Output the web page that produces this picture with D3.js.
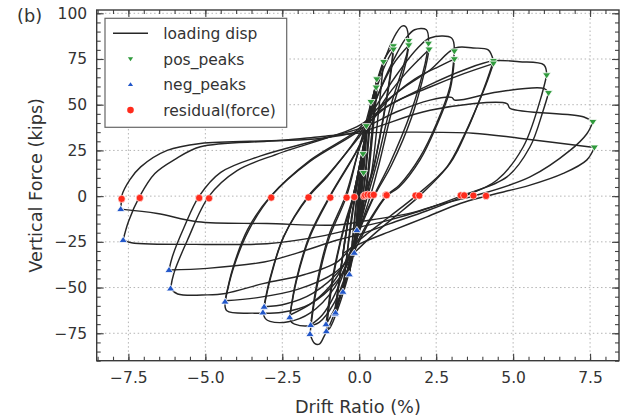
<!DOCTYPE html>
<html>
<head>
<meta charset="utf-8">
<script src="https://cdn.jsdelivr.net/npm/d3@7"></script>
<style>
  body { margin: 0; background: #fff; }
  svg { display: block; font-family: "DejaVu Sans", sans-serif; }
</style>
</head>
<body>
<div id="chart"></div>
<script>
// tick labels
const xTicks = [-7.5, -5, -2.5, 0, 2.5, 5, 7.5];
const yTicks = [-75, -50, -25, 0, 25, 50, 75, 100];

// peak markers (drift %, force kips)
const posPeaks = [[0.14,12.7],[0.12,23],[0.23,38.3],[0.38,51.5],[0.57,63.9],[0.55,59.4],[0.79,73.4],
    [1.11,82],[1.11,80.2],[1.61,84.9],[1.61,82.5],[2.25,83.4],[2.27,80.2],[3.09,79.2],[3.09,74.9],
    [4.36,73.9],[4.36,72.5],[6.09,66.1],[6.15,56.4],[7.59,40.6],[7.64,26.6]];
const negPeaks = [[-0.075,-18.6],[-0.16,-31],[-0.32,-42.8],[-0.53,-52.3],[-0.78,-64.5],[-0.77,-63.7],
    [-1.07,-73.9],[-1.08,-70.1],[-1.6,-75.4],[-1.58,-70.5],[-2.26,-66.3],[-3.13,-63.6],[-3.09,-60.5],
    [-4.36,-57.7],[-6.13,-50.5],[-6.18,-40.4],[-7.67,-24],[-7.75,-7.1]];
const residuals = [[-7.72,-1.5],[-7.13,-1.0],[-5.2,-1.0],[-4.88,-1.2],[-2.86,-0.8],[-1.65,-0.7],[-0.94,-0.8],
    [-0.41,-0.8],[-0.16,-0.5],[0.15,0],[0.19,0.5],[0.27,0.8],[0.36,0.6],[0.47,0.7],[0.86,0.5],[0.89,0.5],
    [1.83,0.3],[1.95,0.3],[3.3,0.4],[3.41,0.4],[3.71,0.3],[4.12,0.1]];

// loading path, one piece per half cycle (peak to peak)
const loadingDisp = [
    [[0,0],[0.07,6],[0.14,12.7]],
    [[0.14,12.7],[0.1,5],[0.04,-3],[-0.02,-10],[-0.075,-18.6]],
    [[-0.075,-18.6],[-0.04,-9],[0.02,2],[0.07,12],[0.12,23]],
    [[0.12,23],[0.07,10],[0.01,-2],[-0.07,-15],[-0.16,-31]],
    [[-0.16,-31],[-0.1,-15],[-0.02,0],[0.07,14],[0.15,28]],
    [[0.15,28],[0.09,12],[0.02,-2],[-0.08,-17],[-0.18,-33]],
    [[-0.18,-33],[-0.1,-16],[-0.03,0],[0.06,12],[0.14,24],[0.23,38.3]],
    [[0.23,38.3],[0.15,20],[0.07,3],[-0.04,-12],[-0.17,-26],[-0.32,-42.8]],
    [[-0.32,-42.8],[-0.22,-24],[-0.1,-4],[0.02,10],[0.14,26],[0.28,42]],
    [[0.28,42],[0.19,22],[0.09,4],[-0.05,-13],[-0.19,-28],[-0.35,-44]],
    [[-0.35,-44],[-0.2,-22],[-0.08,-2],[0.04,12],[0.2,30],[0.38,51.5]],
    [[0.38,51.5],[0.28,30],[0.17,8],[0.05,-8],[-0.12,-22],[-0.3,-36],[-0.53,-52.3]],
    [[-0.53,-52.3],[-0.4,-32],[-0.24,-10],[-0.08,6],[0.08,20],[0.24,36],[0.42,53]],
    [[0.42,53],[0.31,31],[0.19,9],[0.04,-8],[-0.13,-24],[-0.32,-38],[-0.55,-54]],
    [[-0.55,-54],[-0.38,-30],[-0.2,-8],[-0.05,8],[0.1,22],[0.3,42],[0.57,63.9]],
    [[0.57,63.9],[0.43,38],[0.28,12],[0.12,-6],[-0.05,-20],[-0.4,-42],[-0.78,-64.5]],
    [[-0.78,-64.5],[-0.6,-40],[-0.35,-12],[-0.12,6],[0.05,20],[0.3,40],[0.55,59.4]],
    [[0.55,59.4],[0.42,36],[0.26,10],[0.1,-7],[-0.07,-21],[-0.4,-42],[-0.77,-63.7]],
    [[-0.77,-63.7],[-0.6,-40],[-0.36,-13],[-0.13,5],[0.04,19],[0.3,42],[0.6,62]],
    [[0.6,62],[0.46,38],[0.3,12],[0.13,-5],[-0.06,-20],[-0.42,-43],[-0.8,-63]],
    [[-0.8,-63],[-0.58,-38],[-0.32,-10],[-0.08,8],[0.08,22],[0.4,50],[0.79,73.4]],
    [[0.79,73.4],[0.62,45],[0.42,15],[0.2,-4],[0,-18],[-0.3,-40],[-0.7,-62],[-0.95,-72],[-1.07,-73.9]],
    [[-1.07,-73.9],[-0.85,-45],[-0.5,-18],[-0.16,0],[0.02,14],[0.2,32],[0.5,58],[0.85,76],[1.11,82]],
    [[1.11,82],[1.05,72],[0.8,45],[0.45,15],[0.15,0],[-0.05,-14],[-0.3,-35],[-0.7,-58],[-1.08,-70.1]],
    [[-1.08,-70.1],[-0.85,-43],[-0.5,-17],[-0.2,0],[0,16],[0.2,33],[0.55,58],[0.85,72],[1.11,80.2]],
    [[1.11,80.2],[1.05,70],[0.8,44],[0.45,14],[0.19,0],[-0.05,-16],[-0.35,-40],[-0.8,-64],[-1.15,-77],[-1.3,-80.9],[-1.45,-80.5],[-1.6,-75.4]],
    [[-1.6,-75.4],[-1.4,-52],[-1.0,-24],[-0.41,0],[-0.07,22],[0.15,36],[0.5,58],[0.9,78],[1.2,89],[1.39,93],[1.52,92.5],[1.61,84.9]],
    [[1.61,84.9],[1.55,78],[1.0,48],[0.57,18],[0.27,0],[0,-15],[-0.3,-32],[-0.8,-54],[-1.2,-65],[-1.58,-70.5]],
    [[-1.58,-70.5],[-1.38,-48],[-1.0,-22],[-0.45,0],[-0.07,22],[0.2,36],[0.6,55],[1.1,72],[1.61,82.5]],
    [[1.61,82.5],[1.5,72],[1.05,46],[0.65,18],[0.36,0],[0.05,-16],[-0.3,-36],[-0.8,-58],[-1.3,-69],[-1.7,-71],[-2.1,-70],[-2.2,-69],[-2.26,-66.3]],
    [[-2.26,-66.3],[-2.05,-47],[-1.6,-22],[-0.94,0],[-0.07,25],[0.2,36],[0.6,55],[1.1,74],[1.5,86],[1.8,91],[2.18,91],[2.25,83.4]],
    [[2.25,83.4],[2.14,72.5],[1.66,45],[1.0,18],[0.47,0],[0.1,-14],[-0.2,-27],[-0.8,-46],[-1.5,-58],[-2.25,-65]],
    [[-2.25,-65],[-2.05,-46],[-1.6,-21],[-0.96,0],[-0.07,25],[0.25,35],[0.8,52],[1.5,67],[2.27,80.2]],
    [[2.27,80.2],[2.15,70],[1.7,43],[1.05,17],[0.49,0],[0.1,-15],[-0.2,-28],[-0.8,-50],[-1.6,-64],[-2.3,-68.7],[-2.9,-68.5],[-3.05,-67],[-3.13,-63.6]],
    [[-3.13,-63.6],[-2.9,-45],[-2.45,-22],[-1.63,0],[-1.05,10.5],[-0.07,32],[0.5,48],[1.2,66],[1.9,81],[2.3,86.5],[3.0,86.5],[3.09,79.2]],
    [[3.09,79.2],[2.95,60],[2.52,40],[1.98,21.5],[1.3,6],[0.86,0],[0.3,-14],[-0.1,-26],[-0.6,-40],[-1.5,-53],[-2.4,-59],[-3.09,-60.5]],
    [[-3.09,-60.5],[-2.87,-44],[-2.45,-22],[-1.66,0],[-1.0,12],[-0.07,31],[0.8,50],[1.8,64],[2.6,71],[3.09,74.9]],
    [[3.09,74.9],[2.95,58],[2.5,38],[1.98,20],[1.3,5],[0.89,0],[0.3,-15],[-0.1,-28],[-0.7,-46],[-1.6,-59],[-2.5,-63.5],[-3.4,-64],[-4.3,-62.7],[-4.36,-57.7]],
    [[-4.36,-57.7],[-4.1,-40],[-3.6,-19],[-2.86,0],[-1.59,19.7],[-0.07,36],[0.6,48],[1.5,60],[2.3,69],[3.12,81],[3.7,81],[4.19,80],[4.36,73.9]],
    [[4.36,73.9],[4.15,63.4],[3.82,48.8],[3.5,36],[2.95,17.9],[1.95,0],[1.1,-12],[0.4,-22],[-0.1,-30],[-0.8,-42],[-2,-51],[-3.3,-55.5],[-4.36,-57.2]],
    [[-4.36,-57.2],[-4.1,-39],[-3.62,-18],[-2.88,0],[-1.6,19],[-0.07,35],[1,50],[2.3,59.7],[3.4,67],[4.36,72.5]],
    [[4.36,72.5],[4.12,61],[3.75,46],[3.4,33],[2.85,16],[1.83,0],[1.0,-11],[0.3,-20],[-0.2,-27],[-0.71,-35.9],[-1.8,-43],[-3.09,-47.7],[-4.35,-53.2],[-4.94,-54],[-5.9,-53.5],[-6.13,-50.5]],
    [[-6.13,-50.5],[-6.02,-42],[-5.58,-24],[-4.88,0],[-3.97,14],[-2.67,23],[-0.07,38],[0.8,48],[2.3,61],[3.4,69],[4.36,74],[5.2,73.5],[6.0,71.8],[6.09,66.1]],
    [[6.09,66.1],[5.88,52.5],[5.33,27],[4.47,8.7],[3.41,0],[2.2,-8],[1.0,-15],[0,-21],[-0.71,-24],[-2,-31],[-3.09,-36],[-4.94,-39.5],[-6.18,-40.4]],
    [[-6.18,-40.4],[-6.07,-33],[-5.69,-17],[-5.2,0],[-4.5,13],[-3.2,22],[-1.5,30],[0.2,38],[1.2,46],[2.3,52.5],[3.0,54],[3.1,52.5],[4.5,57],[6.0,58.9],[6.15,56.4]],
    [[6.15,56.4],[5.98,47],[5.55,27],[4.8,10.5],[3.3,0],[2,-8],[1,-13],[0,-17],[-1.27,-22],[-3,-26],[-5,-26.4],[-7.4,-25.5],[-7.67,-24]],
    [[-7.67,-24],[-7.5,-14],[-7.13,0],[-6.64,12.4],[-6.0,20],[-5.16,27],[-3,30],[-1.27,31.5],[0.2,36],[2.3,47],[4.8,50.6],[4.9,48],[7.3,43.3],[7.59,40.6]],
    [[7.59,40.6],[7.39,34],[6.85,25],[5.55,10.5],[3.71,0],[2.73,-4],[1.66,-9.3],[0.03,-14],[-0.71,-15.8],[-3,-15],[-5.26,-14],[-6.56,-9.5],[-7.75,-7.1]],
    [[-7.75,-7.1],[-7.73,-3],[-7.72,0],[-7.45,9],[-7.1,16],[-6.24,25],[-5.16,28.8],[-2.47,30.6],[-1.27,32.5],[0.1,34.5],[1.7,35],[3.7,34.4],[5.2,31.7],[7.64,26.6]],
    [[7.64,26.6],[7.39,19.7],[6.63,12.4],[5.55,6],[4.12,0],[3.28,-4],[2.2,-11.3],[1.11,-18.6],[0.03,-26],[-0.5,-31]]
];

const width = 641, height = 420;
const margin = {top: 10, right: 22, bottom: 59, left: 96.7};

const svg = d3.select("#chart").append("svg")
    .attr("width", width)
    .attr("height", height);

const x = d3.scaleLinear().domain([-8.53, 8.44]).range([margin.left, width - margin.right]);
const y = d3.scaleLinear().domain([-90, 101.8]).range([height - margin.bottom - 0.3, margin.top]);

const x0 = x.range()[0], x1 = x.range()[1];
const y0 = y.range()[1], y1 = y.range()[0];
const textColor = "#333";

// grid
const grid = svg.append("g")
    .attr("stroke", "#b4b4b4")
    .attr("stroke-width", 1)
    .attr("stroke-dasharray", "1.5,2.6");
grid.selectAll("line.gx").data(xTicks).enter().append("line")
    .attr("x1", d => x(d)).attr("x2", d => x(d))
    .attr("y1", y0).attr("y2", y1);
grid.selectAll("line.gy").data(yTicks).enter().append("line")
    .attr("y1", d => y(d)).attr("y2", d => y(d))
    .attr("x1", x0).attr("x2", x1);

// axes, ticks pointing in
const xMinor = d3.range(-8.5, 8.45, 0.5);
const yMinor = d3.range(-90, 101, 5);

function styleAxis(g) {
    g.select(".domain").remove();
    g.selectAll(".tick line").attr("stroke", "#444").attr("stroke-width", 1.1);
    g.selectAll(".tick text")
        .attr("fill", textColor)
        .style("font-size", "15.5px")
        .style("font-family", "DejaVu Sans, sans-serif");
}

svg.append("g").attr("transform", `translate(0,${y1})`)
    .call(d3.axisBottom(x).tickValues(xTicks).tickFormat(d3.format(".1f")).tickSize(-7).tickPadding(11))
    .call(styleAxis);
svg.append("g").attr("transform", `translate(0,${y1})`)
    .call(d3.axisBottom(x).tickValues(xMinor).tickFormat("").tickSize(-4))
    .call(styleAxis);
svg.append("g").attr("transform", `translate(0,${y0})`)
    .call(d3.axisTop(x).tickValues(xTicks).tickFormat("").tickSize(-7))
    .call(styleAxis);
svg.append("g").attr("transform", `translate(0,${y0})`)
    .call(d3.axisTop(x).tickValues(xMinor).tickFormat("").tickSize(-4))
    .call(styleAxis);

svg.append("g").attr("transform", `translate(${x0},0)`)
    .call(d3.axisLeft(y).tickValues(yTicks).tickFormat(d3.format("d")).tickSize(-7).tickPadding(9.5))
    .call(styleAxis);
svg.append("g").attr("transform", `translate(${x0},0)`)
    .call(d3.axisLeft(y).tickValues(yMinor).tickFormat("").tickSize(-4))
    .call(styleAxis);
svg.append("g").attr("transform", `translate(${x1},0)`)
    .call(d3.axisRight(y).tickValues(yTicks).tickFormat("").tickSize(-7))
    .call(styleAxis);
svg.append("g").attr("transform", `translate(${x1},0)`)
    .call(d3.axisRight(y).tickValues(yMinor).tickFormat("").tickSize(-4))
    .call(styleAxis);

// loading path
const line = d3.line()
    .x(d => x(d[0]))
    .y(d => y(d[1]))
    .curve(d3.curveCatmullRom.alpha(0.5));

svg.append("g")
    .attr("fill", "none")
    .attr("stroke", "#262626")
    .attr("stroke-width", 1.45)
    .attr("stroke-linejoin", "round")
    .selectAll("path")
    .data(loadingDisp)
    .enter().append("path")
    .attr("d", line);

// markers
const triDown = s => `M${-s},${-s * 0.6}L${s},${-s * 0.6}L0,${s * 0.9}Z`;
const triUp = s => `M${-s},${s * 0.6}L${s},${s * 0.6}L0,${-s * 0.9}Z`;
const green = "#2f9a3c", blue = "#2156c9", red = "#ff2b1c";

svg.append("g").selectAll("path")
    .data(posPeaks).enter().append("path")
    .attr("transform", d => `translate(${x(d[0])},${y(d[1])})`)
    .attr("d", triDown(4.1))
    .attr("fill", green).attr("stroke", "#fff").attr("stroke-width", 0.8);

svg.append("g").selectAll("path")
    .data(negPeaks).enter().append("path")
    .attr("transform", d => `translate(${x(d[0])},${y(d[1])})`)
    .attr("d", triUp(4.1))
    .attr("fill", blue).attr("stroke", "#fff").attr("stroke-width", 0.8);

svg.append("g").selectAll("circle")
    .data(residuals).enter().append("circle")
    .attr("cx", d => x(d[0])).attr("cy", d => y(d[1]))
    .attr("r", 3.6)
    .attr("fill", red).attr("stroke", "#fff").attr("stroke-width", 0.6);

// frame
svg.append("rect")
    .attr("x", x0).attr("y", y0)
    .attr("width", x1 - x0).attr("height", y1 - y0)
    .attr("fill", "none").attr("stroke", "#3a3a3a").attr("stroke-width", 1.4);

// legend
const legend = svg.append("g");
legend.append("rect")
    .attr("x", 105).attr("y", 18.3).attr("width", 181.7).attr("height", 109)
    .attr("fill", "#fff").attr("stroke", "#666").attr("stroke-width", 1.2);
const entries = ["loading disp", "pos_peaks", "neg_peaks", "residual(force)"];
entries.forEach((name, i) => {
    const ey = 33.3 + i * 25.6;
    const cx = 130.5;
    if (i === 0) {
        legend.append("line").attr("x1", 113).attr("x2", 148).attr("y1", ey).attr("y2", ey)
            .attr("stroke", "#262626").attr("stroke-width", 1.4);
    } else if (i === 1) {
        legend.append("path").attr("transform", `translate(${cx},${ey})`).attr("d", triDown(2.6)).attr("fill", green);
    } else if (i === 2) {
        legend.append("path").attr("transform", `translate(${cx},${ey})`).attr("d", triUp(2.6)).attr("fill", blue);
    } else {
        legend.append("circle").attr("cx", cx).attr("cy", ey).attr("r", 3.3).attr("fill", red);
    }
    legend.append("text")
        .attr("x", 163.3).attr("y", ey + 5.6)
        .attr("fill", textColor)
        .style("font-size", "15.5px")
        .text(name);
});

// labels
svg.append("text")
    .attr("x", (x0 + x1) / 2).attr("y", 413)
    .attr("text-anchor", "middle")
    .attr("fill", textColor)
    .style("font-size", "17.7px")
    .text("Drift Ratio (%)");

svg.append("text")
    .attr("transform", `translate(42,${(y0 + y1) / 2}) rotate(-90)`)
    .attr("text-anchor", "middle")
    .attr("fill", textColor)
    .style("font-size", "17.7px")
    .text("Vertical Force (kips)");

svg.append("text")
    .attr("x", 17).attr("y", 21.5)
    .attr("fill", textColor)
    .style("font-size", "17.7px")
    .text("(b)");
</script>
</body>
</html>
